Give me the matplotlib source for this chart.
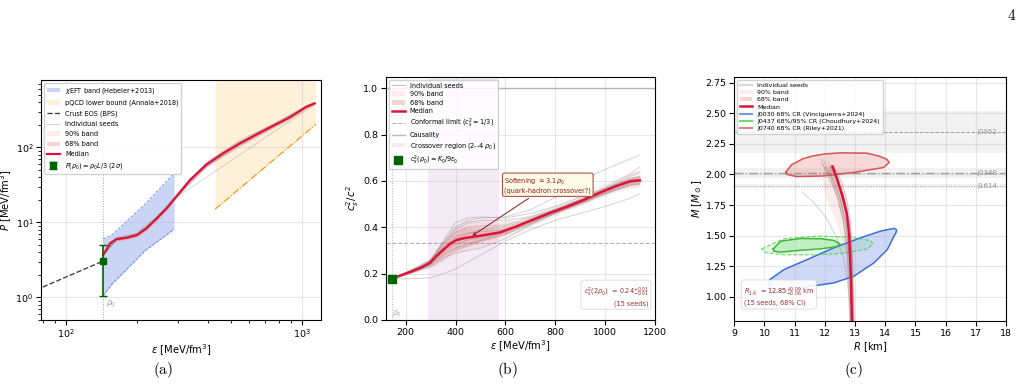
import numpy as np
import matplotlib.pyplot as plt
from matplotlib.lines import Line2D
from matplotlib.patches import Patch

# ---------------- panel (a): P(eps) ----------------
eps0 = 144
eps_a = [144, 154, 164, 181, 200, 220, 243, 268, 290, 336, 396, 465, 548, 645, 759, 892, 1050, 1137]
p_med = [3.66, 5.25, 5.99, 6.23, 6.77, 8.32, 11.3, 15.4, 20.9, 36.6, 59.3, 83.2, 113, 149, 194, 251, 348, 386]
p68_lo = [3.66, 5.0, 5.7, 5.95, 6.45, 7.9, 10.8, 14.7, 20.0, 34.8, 56, 78.5, 107, 141, 185, 240, 334, 372]
p68_hi = [3.66, 5.5, 6.3, 6.55, 7.1, 8.75, 11.9, 16.1, 21.8, 38.4, 62.5, 88, 119, 157, 203, 262, 362, 400]
p90_lo = [3.66, 4.8, 5.45, 5.7, 6.15, 7.5, 10.3, 14.0, 19.2, 33.5, 53.5, 75, 102, 135, 177, 231, 322, 360]
p90_hi = [3.66, 5.7, 6.55, 6.85, 7.45, 9.2, 12.5, 16.9, 22.7, 40, 65.5, 92, 124, 163, 211, 272, 375, 412]

eps_as = [144, 164, 200, 243, 290, 396, 548, 759, 1050, 1137]
seeds_a = [
    [3.66, 6.3, 7.0, 11.0, 20.9, 62, 120, 203, 355, 395],
    [3.66, 5.7, 6.5, 11.5, 21.0, 56, 108, 188, 340, 380],
    [3.66, 6.1, 7.2, 12.0, 21.5, 64, 124, 206, 358, 392],
    [3.66, 5.8, 6.6, 10.8, 20.5, 55, 104, 182, 335, 375],
    [3.66, 6.0, 6.9, 11.4, 20.9, 60, 116, 198, 350, 388],
    [3.66, 5.9, 6.7, 11.2, 20.9, 40, 80, 159, 316, 374],
]

crust_eps = [70, 144]
crust_p = [1.15, 3.05]

# chi-EFT band edges on a common grid
chi_eps = [144, 157, 217, 288]
chi_lo = [1.05, 1.5, 4.2, 8.1]
chi_hi = [6.0, 6.8, 17.5, 45]

pqcd_eps = [430, 1150]
pqcd_p = [15, 203]

p0_val = 3.05
p0_err = 2.0

# ---------------- panel (b): cs2(eps) ----------------
eps_b = [144, 177, 220, 260, 297, 320, 351, 380, 404, 430, 458, 490, 524, 578, 645, 711, 778, 845, 912, 978, 1045, 1099, 1120, 1139]
cs_med = [0.178, 0.191, 0.208, 0.225, 0.246, 0.272, 0.303, 0.33, 0.345, 0.352, 0.357, 0.362, 0.368, 0.378, 0.404, 0.433, 0.462, 0.488, 0.517, 0.549, 0.578, 0.598, 0.601, 0.602]
cs68_lo = [0.178, 0.188, 0.203, 0.218, 0.236, 0.252, 0.275, 0.295, 0.305, 0.315, 0.325, 0.335, 0.345, 0.36, 0.39, 0.42, 0.45, 0.478, 0.505, 0.535, 0.562, 0.58, 0.584, 0.586]
cs68_hi = [0.178, 0.195, 0.214, 0.232, 0.256, 0.29, 0.33, 0.365, 0.385, 0.395, 0.398, 0.398, 0.397, 0.398, 0.418, 0.445, 0.473, 0.5, 0.53, 0.562, 0.592, 0.615, 0.618, 0.62]
cs90_lo = [0.178, 0.185, 0.198, 0.21, 0.225, 0.238, 0.258, 0.275, 0.285, 0.295, 0.305, 0.315, 0.328, 0.345, 0.375, 0.41, 0.44, 0.47, 0.498, 0.527, 0.553, 0.568, 0.572, 0.574]
cs90_hi = [0.178, 0.198, 0.22, 0.24, 0.265, 0.305, 0.35, 0.39, 0.41, 0.425, 0.43, 0.43, 0.428, 0.425, 0.435, 0.46, 0.485, 0.512, 0.545, 0.58, 0.61, 0.635, 0.64, 0.645]

eps_bs = [144, 200, 250, 300, 350, 400, 450, 500, 600, 700, 800, 900, 1000, 1100, 1139]
seeds_b = [
    [0.178, 0.178, 0.179, 0.182, 0.2, 0.22, 0.25, 0.28, 0.34, 0.39, 0.43, 0.46, 0.49, 0.525, 0.545],
    [0.178, 0.205, 0.23, 0.26, 0.33, 0.4, 0.43, 0.44, 0.445, 0.475, 0.53, 0.6, 0.65, 0.695, 0.712],
    [0.178, 0.2, 0.22, 0.25, 0.34, 0.42, 0.44, 0.445, 0.44, 0.46, 0.49, 0.53, 0.57, 0.61, 0.62],
    [0.178, 0.198, 0.22, 0.24, 0.28, 0.31, 0.33, 0.345, 0.38, 0.43, 0.475, 0.52, 0.565, 0.605, 0.615],
    [0.178, 0.2, 0.225, 0.25, 0.31, 0.36, 0.375, 0.38, 0.39, 0.425, 0.46, 0.5, 0.545, 0.585, 0.59],
    [0.178, 0.197, 0.215, 0.235, 0.27, 0.29, 0.3, 0.31, 0.35, 0.41, 0.46, 0.505, 0.55, 0.59, 0.6],
    [0.178, 0.202, 0.228, 0.255, 0.32, 0.38, 0.4, 0.405, 0.41, 0.44, 0.475, 0.515, 0.56, 0.62, 0.64],
    [0.178, 0.199, 0.218, 0.242, 0.29, 0.33, 0.345, 0.355, 0.375, 0.42, 0.465, 0.505, 0.545, 0.58, 0.585],
    [0.178, 0.201, 0.224, 0.248, 0.305, 0.35, 0.37, 0.39, 0.405, 0.43, 0.465, 0.51, 0.56, 0.6, 0.605],
    [0.178, 0.196, 0.212, 0.23, 0.26, 0.3, 0.32, 0.34, 0.37, 0.415, 0.465, 0.51, 0.555, 0.6, 0.61],
    [0.178, 0.203, 0.23, 0.26, 0.33, 0.39, 0.42, 0.43, 0.43, 0.445, 0.48, 0.52, 0.57, 0.63, 0.66],
]
cs_rho0 = 0.178

# ---------------- panel (c): M(R) ----------------
m_med = [0.8, 0.975, 1.167, 1.359, 1.523, 1.688, 1.824, 1.961, 2.066]
r_med = [12.9, 12.88, 12.86, 12.83, 12.80, 12.72, 12.58, 12.41, 12.25]

m_band = [0.8, 1.0, 1.2, 1.4, 1.6, 1.8, 1.9, 2.0, 2.07]
r90_lo = [12.8, 12.77, 12.72, 12.62, 12.4, 12.05, 11.95, 11.9, 12.0]
r90_hi = [12.97, 12.96, 12.95, 12.92, 12.87, 12.72, 12.6, 12.45, 12.3]
r68_lo = [12.84, 12.82, 12.8, 12.75, 12.64, 12.42, 12.28, 12.12, 12.1]
r68_hi = [12.94, 12.93, 12.91, 12.88, 12.82, 12.65, 12.52, 12.38, 12.3]

seeds_c = [
    ([12.82, 12.8, 12.77, 12.72, 12.62, 12.42, 12.27, 12.08, 11.85], [0.8, 1.0, 1.2, 1.4, 1.6, 1.8, 1.9, 2.0, 2.13]),
    ([12.95, 12.93, 12.9, 12.86, 12.78, 12.6, 12.45, 12.28, 12.1], [0.8, 1.0, 1.2, 1.4, 1.6, 1.8, 1.9, 2.0, 2.1]),
    ([12.88, 12.86, 12.83, 12.78, 12.68, 12.5, 12.36, 12.18, 11.95], [0.8, 1.0, 1.2, 1.4, 1.6, 1.8, 1.9, 2.0, 2.12]),
    ([12.93, 12.92, 12.9, 12.87, 12.8, 12.65, 12.52, 12.35, 12.2], [0.8, 1.0, 1.2, 1.4, 1.6, 1.8, 1.9, 2.0, 2.07]),
    ([12.85, 12.83, 12.8, 12.74, 12.63, 12.44, 12.3, 12.12, 11.9], [0.8, 1.0, 1.2, 1.4, 1.6, 1.8, 1.9, 2.0, 2.09]),
    ([12.9, 12.88, 12.85, 12.8, 12.7, 12.52, 12.38, 12.2, 12.0], [0.8, 1.0, 1.2, 1.4, 1.6, 1.8, 1.9, 2.0, 2.06]),
    ([12.97, 12.95, 12.93, 12.9, 12.85, 12.72, 12.6, 12.45, 12.35], [0.8, 1.0, 1.2, 1.4, 1.6, 1.8, 1.9, 2.0, 2.04]),
    ([12.86, 12.83, 12.74, 12.63, 12.41, 12.08, 11.64, 11.25], [0.8, 0.92, 1.14, 1.304, 1.468, 1.633, 1.77, 1.857]),
]

j0030_r = [10.18, 10.65, 11.42, 12.3, 13.19, 13.85, 14.29, 14.38, 14.35, 14.29, 14.07, 13.63, 12.96, 12.3, 11.53, 10.8, 10.25, 10.15, 10.18]
j0030_m = [1.14, 1.222, 1.304, 1.40, 1.482, 1.537, 1.559, 1.545, 1.52, 1.495, 1.386, 1.277, 1.167, 1.112, 1.085, 1.05, 1.03, 1.07, 1.14]

j0437_r68 = [10.29, 10.54, 11.2, 11.86, 12.3, 12.52, 12.36, 11.86, 11.2, 10.54, 10.31, 10.29]
j0437_m68 = [1.391, 1.454, 1.476, 1.474, 1.46, 1.427, 1.408, 1.391, 1.38, 1.364, 1.372, 1.391]
j0437_r95 = [9.9, 10.65, 11.75, 12.86, 13.52, 13.6, 13.4, 12.63, 11.75, 10.65, 10.04, 9.9]
j0437_m95 = [1.39, 1.475, 1.495, 1.488, 1.458, 1.43, 1.39, 1.355, 1.342, 1.342, 1.36, 1.39]

j0740_r = [10.71, 10.9, 11.29, 11.62, 12.0, 12.5, 13.38, 13.8, 14.05, 14.13, 13.94, 13.4, 12.94, 11.95, 11.06, 10.73, 10.71]
j0740_m = [2.021, 2.08, 2.131, 2.153, 2.168, 2.177, 2.175, 2.15, 2.125, 2.098, 2.057, 2.035, 2.016, 1.988, 1.983, 2.002, 2.021]

psr_names = ["J0952", "J0348", "J1614"]
psr_mass = [2.35, 2.01, 1.908]
psr_err = [0.17, 0.04, 0.016]
psr_style = ["--", "-.", ":"]

# ---------------- style ----------------
med_col = "#dc143c"
seed_col = "gray"
band_col = "lightcoral"
green = "#006400"
txt_red = "#a52a2a"
fs_tick = 6.8
fs_lab = 7.2
fs_leg = 4.7

fig = plt.figure(figsize=(10.23, 3.84), dpi=100)
ax1 = fig.add_axes([0.0401, 0.1667, 0.2737, 0.625])
ax2 = fig.add_axes([0.377, 0.1667, 0.2633, 0.6336])
ax3 = fig.add_axes([0.7178, 0.164, 0.2656, 0.636])

# ---- (a)
ax1.set_xscale("log")
ax1.set_yscale("log")
ax1.fill_between(chi_eps, chi_lo, chi_hi, color="royalblue", alpha=0.28, lw=0)
ax1.plot(chi_eps, chi_lo, ls="--", color="royalblue", lw=0.6, alpha=0.8)
ax1.plot(chi_eps, chi_hi, ls="--", color="royalblue", lw=0.6, alpha=0.8)
ax1.fill_between(pqcd_eps, pqcd_p, [1e4, 1e4], color="navajowhite", alpha=0.45, lw=0)
ax1.plot(pqcd_eps, pqcd_p, ls="-.", color="darkorange", lw=0.8)
ax1.plot(crust_eps, crust_p, ls="--", color="#444444", lw=1.0)
ax1.axvline(eps0, color="gray", ls=":", lw=0.7, alpha=0.7)
ax1.fill_between(eps_a, p90_lo, p90_hi, color=band_col, alpha=0.15, lw=0)
ax1.fill_between(eps_a, p68_lo, p68_hi, color=band_col, alpha=0.35, lw=0)
for s in seeds_a:
    ax1.plot(eps_as, s, color=seed_col, lw=0.6, alpha=0.35)
ax1.plot(eps_a, p_med, color=med_col, lw=1.6)
ax1.errorbar([eps0], [p0_val], yerr=[[p0_err], [p0_err]], fmt="s", color=green, ms=5, capsize=3, elinewidth=1.2, capthick=1)
ax1.text(eps0 * 1.03, 0.8, r"$\rho_0$", color="gray", fontsize=5.5, alpha=0.8)
ax1.set_xlim(78.5, 1210)
ax1.set_ylim(0.5, 790)
ax1.set_xlabel(r"$\varepsilon$ [MeV/fm$^3$]", fontsize=fs_lab, labelpad=1.5)
ax1.set_ylabel(r"$P$ [MeV/fm$^3$]", fontsize=fs_lab, labelpad=1)
ax1.grid(True, alpha=0.3)
h_a = [
    Patch(facecolor="royalblue", alpha=0.28, label=r"$\chi$EFT band (Hebeler+2013)"),
    Patch(facecolor="navajowhite", alpha=0.45, label="pQCD lower bound (Annala+2018)"),
    Line2D([], [], ls="--", color="#444444", lw=1.0, label="Crust EOS (BPS)"),
    Line2D([], [], color=seed_col, lw=0.6, alpha=0.4, label="Individual seeds"),
    Patch(facecolor=band_col, alpha=0.15, label="90% band"),
    Patch(facecolor=band_col, alpha=0.35, label="68% band"),
    Line2D([], [], color=med_col, lw=1.6, label="Median"),
]
eb_handle = ax1.containers[0]
ax1.legend(h_a + [eb_handle], [h.get_label() for h in h_a] + [r"$P(\rho_0) = \rho_0 L/3$ (2$\sigma$)"],
           loc="upper left", fontsize=fs_leg, framealpha=0.85, labelspacing=0.62)

# ---- (b)
ax2.axvspan(2 * eps0, 4 * eps0, color="purple", alpha=0.08, lw=0)
ax2.axhline(1.0, color="gray", lw=1.0, alpha=0.5)
ax2.axhline(1 / 3, color="gray", ls="--", lw=0.8, alpha=0.6)
ax2.axvline(eps0, color="gray", ls=":", lw=0.7, alpha=0.6)
ax2.fill_between(eps_b, cs90_lo, cs90_hi, color=band_col, alpha=0.15, lw=0)
ax2.fill_between(eps_b, cs68_lo, cs68_hi, color=band_col, alpha=0.35, lw=0)
for s in seeds_b:
    ax2.plot(eps_bs, s, color=seed_col, lw=0.7, alpha=0.35)
ax2.plot(eps_b, cs_med, color=med_col, lw=1.8)
ax2.plot([eps0], [cs_rho0], "s", color=green, ms=6)
ax2.text(eps0 + 3, 0.02, r"$\rho_0$", color="gray", fontsize=5.5, alpha=0.6)
ax2.annotate("Softening $\\approx 3.1\\,\\rho_0$\n(quark-hadron crossover?)", xy=(458, 0.357), xytext=(770, 0.58),
             fontsize=fs_leg, color="#8b1a1a", ha="center", va="center", multialignment="left",
             bbox=dict(boxstyle="round,pad=0.3", fc="#fffbe6", ec="#b5524a", lw=0.8),
             arrowprops=dict(arrowstyle="->", color="#8b1a1a", lw=0.7))
ax2.text(0.975, 0.055, "$c_s^2(2\\rho_0)$  = $0.24^{+0.01}_{-0.01}$\n(15 seeds)", transform=ax2.transAxes,
         fontsize=fs_leg, color=txt_red, ha="right", va="bottom", multialignment="right",
         bbox=dict(boxstyle="round,pad=0.4", fc="white", ec="lightgray", alpha=0.9, lw=0.6))
ax2.set_xlim(120, 1200)
ax2.set_ylim(0, 1.05)
ax2.set_xlabel(r"$\varepsilon$ [MeV/fm$^3$]", fontsize=fs_lab, labelpad=1.5)
ax2.set_ylabel(r"$c_s^2/c^2$", fontsize=fs_lab, labelpad=1.5)
ax2.grid(True, alpha=0.3)
h_b = [
    Line2D([], [], color=seed_col, lw=0.7, alpha=0.5, label="Individual seeds"),
    Patch(facecolor=band_col, alpha=0.15, label="90% band"),
    Patch(facecolor=band_col, alpha=0.35, label="68% band"),
    Line2D([], [], color=med_col, lw=1.8, label="Median"),
    Line2D([], [], color="gray", ls="--", lw=0.8, alpha=0.6, label=r"Conformal limit ($c_s^2 = 1/3$)"),
    Line2D([], [], color="gray", lw=1.0, alpha=0.5, label="Causality"),
    Patch(facecolor="purple", alpha=0.08, label=r"Crossover region (2--4 $\rho_0$)"),
    Line2D([], [], ls="none", marker="s", color=green, ms=6, label=r"$c_s^2(\rho_0) = K_0/9\varepsilon_0$"),
]
ax2.legend(handles=h_b, loc="upper left", fontsize=fs_leg, framealpha=0.85, labelspacing=0.38)

# ---- (c)
for name, m, e, ls in zip(psr_names, psr_mass, psr_err, psr_style):
    ax3.axhspan(m - e, m + e, color="gray", alpha=0.1, lw=0)
    ax3.axhline(m, color="gray", ls=ls, lw=1.0 if ls == "-." else 0.7, alpha=0.7)
    ax3.text(17.05, m, name, color="gray", fontsize=5, va="center", alpha=0.8)
ax3.fill(j0030_r, j0030_m, color="royalblue", alpha=0.25, lw=0)
ax3.plot(j0030_r, j0030_m, color="#3d6fd6", lw=1.1)
ax3.fill(j0437_r95, j0437_m95, color="limegreen", alpha=0.12, lw=0)
ax3.plot(j0437_r95, j0437_m95, color="limegreen", ls="--", lw=0.8, alpha=0.7)
ax3.fill(j0437_r68, j0437_m68, color="limegreen", alpha=0.2, lw=0)
ax3.plot(j0437_r68, j0437_m68, color="#3cb83c", lw=1.1)
ax3.fill(j0740_r, j0740_m, color="#e05555", alpha=0.22, lw=0)
ax3.plot(j0740_r, j0740_m, color="#d9534f", lw=1.1)
ax3.fill_betweenx(m_band, r90_lo, r90_hi, color=band_col, alpha=0.15, lw=0)
ax3.fill_betweenx(m_band, r68_lo, r68_hi, color=band_col, alpha=0.35, lw=0)
for r, m in seeds_c:
    ax3.plot(r, m, color=seed_col, lw=0.7, alpha=0.35)
ax3.plot(r_med, m_med, color=med_col, lw=1.8)
ax3.text(0.035, 0.06, "$R_{1.4}$  = $12.85^{+0.09}_{-0.06}$ km\n(15 seeds, 68% CI)", transform=ax3.transAxes,
         fontsize=fs_leg, color=txt_red, ha="left", va="bottom",
         bbox=dict(boxstyle="round,pad=0.4", fc="white", ec="lightgray", alpha=0.9, lw=0.6))
ax3.set_xlim(9, 18)
ax3.set_ylim(0.8, 2.8)
ax3.set_xticks(range(9, 19))
ax3.set_xlabel(r"$R$ [km]", fontsize=fs_lab, labelpad=1.5)
ax3.set_ylabel(r"$M$ [$M_\odot$]", fontsize=fs_lab, labelpad=1.5)
ax3.grid(True, alpha=0.3)
h_c = [
    Line2D([], [], color=seed_col, lw=1.5, alpha=0.3, label="Individual seeds"),
    Patch(facecolor=band_col, alpha=0.15, label="90% band"),
    Patch(facecolor=band_col, alpha=0.35, label="68% band"),
    Line2D([], [], color=med_col, lw=1.8, label="Median"),
    Line2D([], [], color="#3d6fd6", lw=1.5, alpha=0.7, label="J0030 68% CR (Vinciguerra+2024)"),
    Line2D([], [], color="limegreen", lw=1.5, alpha=0.7, label="J0437 68%/95% CR (Choudhury+2024)"),
    Line2D([], [], color="#d9534f", lw=1.5, alpha=0.7, label="J0740 68% CR (Riley+2021)"),
]
ax3.legend(handles=h_c, loc="upper left", fontsize=4.5, framealpha=0.85, labelspacing=0.3)

for ax in (ax1, ax2, ax3):
    ax.tick_params(labelsize=fs_tick, pad=2)

for x, lab in [(0.159, "(a)"), (0.496, "(b)"), (0.834, "(c)")]:
    fig.text(x, 0.036, r"$\mathrm{" + lab + "}$", fontsize=11, math_fontfamily="cm", ha="center", va="center")
fig.text(0.989, 0.96, r"$\mathrm{4}$", fontsize=11, math_fontfamily="cm", ha="center", va="center")

fig.savefig("out.png", dpi=100)
